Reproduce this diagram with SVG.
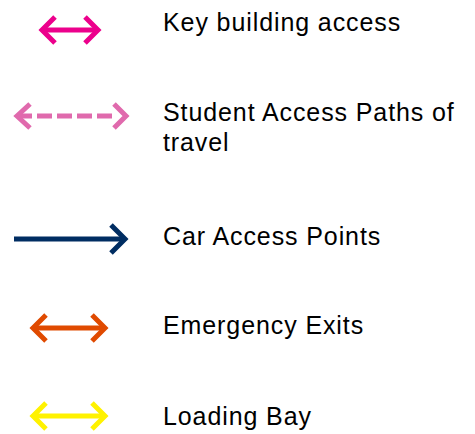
<svg xmlns="http://www.w3.org/2000/svg" width="475" height="434" viewBox="0 0 475 434">
<style>
.lbl{font-family:"Liberation Sans",Arial,sans-serif;font-size:25px;fill:#000;letter-spacing:0.9px}
.ar{fill:none;stroke-width:5;stroke-linecap:butt;stroke-linejoin:miter}
</style>
<rect width="475" height="434" fill="#fff"/>
<g id="connectors">
<g id="key-access" class="ar" stroke="#EC008C">
<line x1="42" y1="30" x2="98" y2="30"/>
<polyline points="55,17 42,30 55,43"/>
<polyline points="85,17 98,30 85,43"/>
</g>
<g id="student-paths" class="ar" stroke="#E06AAD">
<line x1="17" y1="116" x2="112" y2="116" stroke-dasharray="15,5"/>
<polyline points="30,104 17,116 30,128"/>
<polyline points="114,104 126,116 114,128"/>
</g>
<g id="car-access" class="ar" stroke="#002D62" stroke-width="6">
<line x1="14" y1="239" x2="124" y2="239"/>
<polyline points="111,225 125,239 111,253"/>
</g>
<g id="emergency" class="ar" stroke="#E04A00">
<line x1="33" y1="328" x2="105" y2="328"/>
<polyline points="46,315 33,328 46,341"/>
<polyline points="92,315 105,328 92,341"/>
</g>
<g id="loading" class="ar" stroke="#FFF200">
<line x1="33" y1="416" x2="105" y2="416"/>
<polyline points="46,403 33,416 46,429"/>
<polyline points="92,403 105,416 92,429"/>
</g>
</g>
<g id="labels">
<text class="lbl" x="163" y="31">Key building access</text>
<text class="lbl" x="163" y="121">Student Access Paths of</text>
<text class="lbl" x="163" y="151">travel</text>
<text class="lbl" x="163" y="245">Car Access Points</text>
<text class="lbl" x="163" y="334">Emergency Exits</text>
<text class="lbl" x="163" y="425">Loading Bay</text>
</g>
</svg>
